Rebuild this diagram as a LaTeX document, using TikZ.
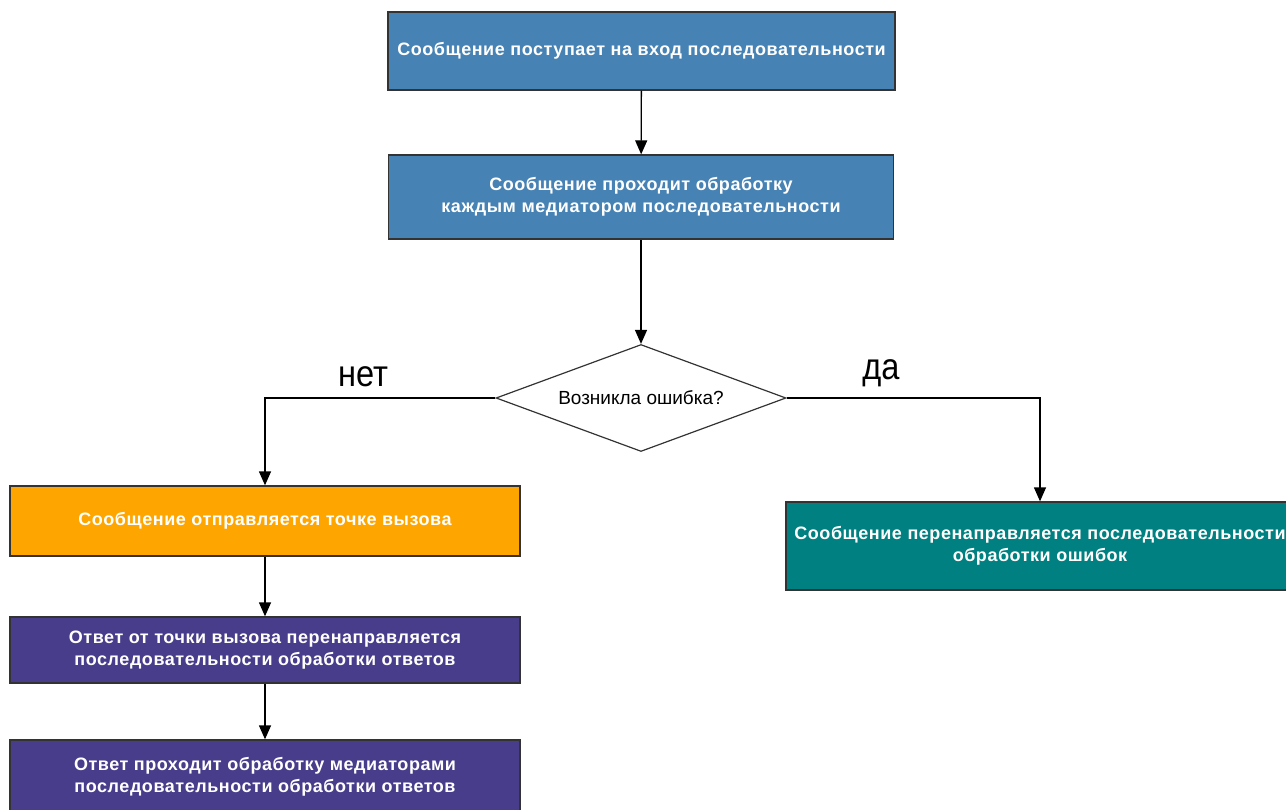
\documentclass[tikz,border=0pt]{standalone}
\usepackage{fontspec}
\setmainfont{Liberation Sans}
\newfontfamily\boxfont[LetterSpace=3]{Liberation Sans}
\usetikzlibrary{arrows.meta, positioning, shapes.geometric}
\definecolor{steel}{HTML}{4682B4}
\definecolor{callorange}{HTML}{FFA500}
\definecolor{errteal}{HTML}{008080}
\definecolor{respviolet}{HTML}{483D8B}
\definecolor{edge}{HTML}{333333}

\begin{document}
\begin{tikzpicture}[x=1pt,y=-1pt,
    box/.style={draw=edge, line width=1.3pt, text=white, align=center, inner sep=0pt,
      font=\boxfont\bfseries\fontsize{18}{22}\selectfont},
    arr/.style={line width=1.3pt, -{Triangle[length=14pt,width=12pt]}}]

    % рамка
    \useasboundingbox (0,0) rectangle (1286,810);
    \clip (0,0) rectangle (1286,810);

    % блоки
    \node[box, fill=steel, minimum width=507, minimum height=78] (msg) at (641.5,51)
        {Сообщение поступает на вход последовательности};
    \node[box, fill=steel, minimum width=505, minimum height=84] (proc) at (641,197)
        {Сообщение проходит обработку\\каждым медиатором последовательности};

    % условие
    \node[draw=edge, line width=1.2pt, shape=diamond, aspect=2.7, inner sep=0pt,
        minimum width=290, minimum height=107, font=\fontsize{19}{22}\selectfont]
        (dia) at (641,398) {Возникла ошибка?};

    \node[box, fill=callorange, minimum width=510, minimum height=70] (send) at (265,521)
        {Сообщение отправляется точке вызова};
    \node[box, fill=errteal, minimum width=508, minimum height=88] (err) at (1040,546)
        {Сообщение перенаправляется последовательности\\обработки ошибок};
    \node[box, fill=respviolet, minimum width=510, minimum height=66] (resp) at (265,650)
        {Ответ от точки вызова перенаправляется\\последовательности обработки ответов};
    \node[box, fill=respviolet, minimum width=510, minimum height=74] (resp2) at (265,777)
        {Ответ проходит обработку медиаторами\\последовательности обработки ответов};

    % подписи ветвей
    \node[font=\fontsize{37}{37}\selectfont] (no) at (363,377) {\scalebox{0.88}[1]{нет}};
    \node[font=\fontsize{37}{37}\selectfont] (yes) at (881,373) {\scalebox{0.88}[1]{да}};

    % стрелки
    \draw[arr] (msg) -- (proc);
    \draw[arr] (proc) -- (dia);
    \draw[arr] (dia.west) -| (send.north);
    \draw[arr] (dia.east) -| (err.north);
    \draw[arr] (send) -- (resp);
    \draw[arr] (resp) -- (resp2);

\end{tikzpicture}
\end{document}
